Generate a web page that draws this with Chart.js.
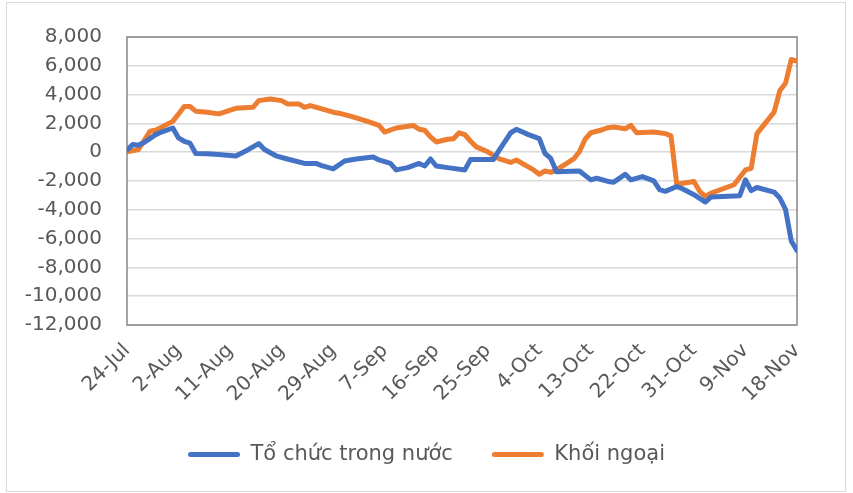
<!DOCTYPE html>
<html>
<head>
<meta charset="utf-8">
<script src="https://cdn.jsdelivr.net/npm/chart.js@4"></script>
<style>
  html, body { margin: 0; padding: 0; background: #fff; }
  #wrap { width: 853px; height: 493px; }
</style>
</head>
<body>
<div id="wrap"><canvas id="chart" width="853" height="493"></canvas></div>
<script>
const tickLabels = ['24-Jul', '2-Aug', '11-Aug', '20-Aug', '29-Aug', '7-Sep', '16-Sep', '25-Sep', '4-Oct', '13-Oct', '22-Oct', '31-Oct', '9-Nov', '18-Nov'];

// days counted from 24-Jul
const domesticDays = [0, 1, 2, 3, 5, 6, 8, 9, 10, 11, 12, 14, 16, 19, 21, 23, 24, 26, 28, 31, 33, 34, 36, 38, 40, 43, 44, 46, 47, 49, 51, 52, 53, 54, 56, 59, 60, 64, 65, 67, 68, 70, 72, 73, 74, 75, 79, 81, 82, 84, 85, 87, 88, 90, 92, 93, 94, 96, 97, 99, 101, 102, 107, 108, 109, 110, 113, 114, 115, 116, 117];
const domesticValues = [150, 530, 490, 670, 1220, 1400, 1680, 990, 760, 630, -90, -110, -160, -270, 140, 600, 190, -250, -470, -780, -780, -930, -1160, -610, -470, -340, -540, -780, -1230, -1070, -780, -960, -470, -960, -1070, -1230, -500, -500, 140, 1350, 1590, 1240, 940, -90, -430, -1350, -1300, -1920, -1810, -2030, -2080, -1530, -1920, -1690, -1990, -2600, -2720, -2380, -2540, -2950, -3460, -3110, -3020, -1920, -2670, -2450, -2770, -3180, -3980, -6160, -6830];

const foreignDays = [0, 2, 4, 5, 8, 9, 10, 11, 12, 14, 16, 17, 19, 22, 23, 25, 27, 28, 30, 31, 32, 36, 37, 39, 42, 44, 45, 47, 50, 51, 52, 53, 54, 56, 57, 58, 59, 60, 61, 63, 65, 66, 67, 68, 70, 71, 72, 73, 74, 75, 78, 79, 80, 81, 83, 84, 85, 87, 88, 89, 92, 94, 95, 96, 99, 100, 101, 102, 106, 108, 109, 110, 113, 114, 115, 116, 117];
const foreignValues = [30, 190, 1450, 1520, 2140, 2660, 3170, 3170, 2850, 2780, 2660, 2780, 3050, 3120, 3580, 3690, 3580, 3350, 3350, 3120, 3240, 2780, 2710, 2500, 2140, 1860, 1400, 1680, 1860, 1590, 1520, 1060, 710, 900, 940, 1350, 1220, 760, 370, 30, -470, -590, -710, -540, -1000, -1230, -1530, -1300, -1400, -1230, -470, 30, 900, 1350, 1560, 1700, 1750, 1630, 1860, 1350, 1400, 1290, 1130, -2220, -2030, -2720, -3070, -2840, -2260, -1230, -1120, 1290, 2780, 4270, 4790, 6440, 6330];

const textColor = '#595959';
const fontFamily = '"DejaVu Sans", Verdana, sans-serif';

function toPoints(days, values) {
  return days.map((d, i) => ({ x: d, y: values[i] }));
}

const frame = {
  id: 'frame',
  beforeDraw(chart) {
    const ctx = chart.ctx;
    ctx.save();
    ctx.fillStyle = '#fff';
    ctx.fillRect(0, 0, chart.width, chart.height);
    ctx.strokeStyle = '#d9d9d9';
    ctx.lineWidth = 1;
    ctx.strokeRect(6.5, 2.5, 839, 489);
    ctx.restore();
  },
  beforeDatasetsDraw(chart) {
    const a = chart.chartArea;
    const ctx = chart.ctx;
    ctx.save();
    ctx.strokeStyle = '#868686';
    ctx.lineWidth = 1.5;
    ctx.strokeRect(a.left, a.top, a.right - a.left, a.bottom - a.top);
    ctx.restore();
  }
};

new Chart(document.getElementById('chart').getContext('2d'), {
  type: 'line',
  data: {
    datasets: [{
      label: 'Tổ chức trong nước',
      data: toPoints(domesticDays, domesticValues),
      borderColor: '#4472C4',
      backgroundColor: '#4472C4',
      borderWidth: 5,
      borderCapStyle: 'round',
      borderJoinStyle: 'round',
      pointRadius: 0,
      tension: 0
    }, {
      label: 'Khối ngoại',
      data: toPoints(foreignDays, foreignValues),
      borderColor: '#ED7D31',
      backgroundColor: '#ED7D31',
      borderWidth: 5,
      borderCapStyle: 'round',
      borderJoinStyle: 'round',
      pointRadius: 0,
      tension: 0
    }]
  },
  options: {
    responsive: false,
    animation: false,
    layout: { padding: { left: 0, right: 0, top: 34, bottom: 18 } },
    scales: {
      x: {
        type: 'linear',
        min: 0,
        max: 117,
        grid: { display: false, drawTicks: false },
        border: { display: false },
        ticks: {
          stepSize: 9,
          autoSkip: false,
          minRotation: 45,
          maxRotation: 45,
          padding: 14,
          color: textColor,
          font: { family: fontFamily, size: 20 },
          callback: v => tickLabels[Math.round(v / 9)]
        },
        afterFit: scale => { scale.height = 80; }
      },
      y: {
        min: -12000,
        max: 8000,
        grid: { color: '#d9d9d9', lineWidth: 1.5, drawTicks: false },
        border: { display: false },
        ticks: {
          stepSize: 2000,
          padding: 25,
          color: textColor,
          font: { family: fontFamily, size: 20 },
          callback: v => v.toLocaleString('en-US')
        },
        afterFit: scale => { scale.width = 127; }
      },
      spacer: {
        type: 'linear',
        position: 'right',
        grid: { display: false, drawTicks: false },
        border: { display: false },
        ticks: { display: false },
        afterFit: scale => { scale.width = 56; }
      }
    },
    plugins: {
      tooltip: { enabled: false },
      legend: {
        position: 'bottom',
        labels: {
          color: textColor,
          font: { family: fontFamily, size: 21 },
          boxWidth: 52,
          boxHeight: 5,
          padding: 39,
          useBorderRadius: true,
          borderRadius: 2.5,
          generateLabels: chart => Chart.defaults.plugins.legend.labels.generateLabels(chart).map(item => ({ ...item, lineWidth: 0 }))
        }
      }
    }
  },
  plugins: [frame]
});
</script>
</body>
</html>
